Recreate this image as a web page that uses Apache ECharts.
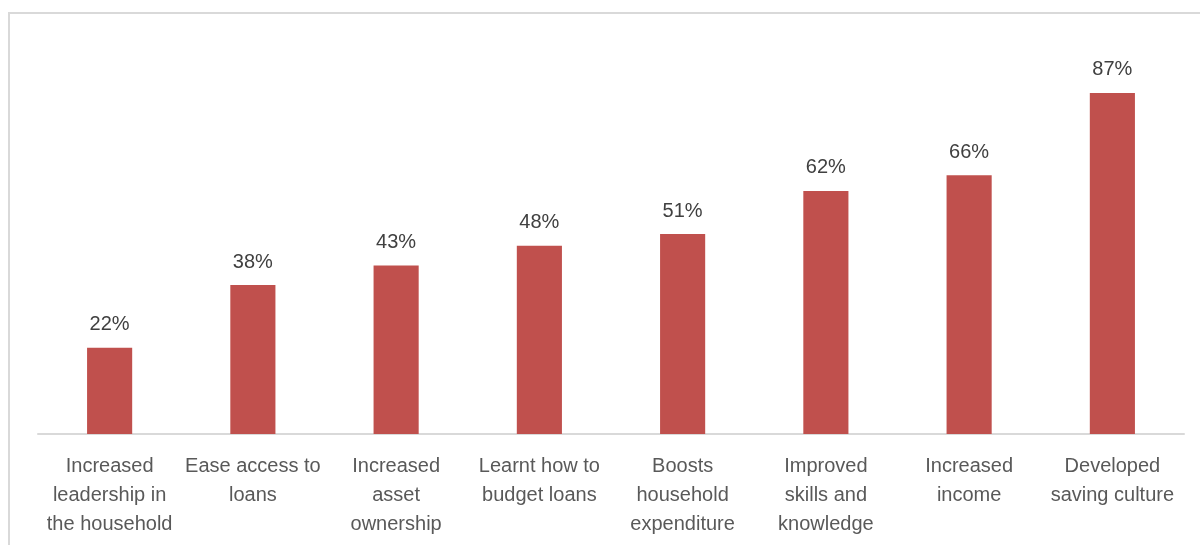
<!DOCTYPE html>
<html>
<head>
<meta charset="utf-8">
<script src="https://cdn.jsdelivr.net/npm/echarts@6/dist/echarts.min.js"></script>
<style>
  html, body { margin: 0; padding: 0; background: #fff; }
  #chart { width: 1200px; height: 545px; }
</style>
</head>
<body>
<div id="chart"></div>
<script>
// Reported benefits of group membership (% of respondents)
const categories = [
  'Increased\nleadership in\nthe household',
  'Ease access to\nloans',
  'Increased\nasset\nownership',
  'Learnt how to\nbudget loans',
  'Boosts\nhousehold\nexpenditure',
  'Improved\nskills and\nknowledge',
  'Increased\nincome',
  'Developed\nsaving culture'
];
const percentages = [22, 38, 43, 48, 51, 62, 66, 87];

const chart = echarts.init(document.getElementById('chart'), null, { renderer: 'canvas' });
const fontFamily = '"Liberation Sans", Arial, sans-serif';

chart.setOption({
  animation: false,
  backgroundColor: '#ffffff',
  graphic: [{
    type: 'rect',
    silent: true,
    shape: { x: 9, y: 13, width: 1220, height: 600 },
    style: { fill: 'none', stroke: '#d9d9d9', lineWidth: 2 }
  }],
  grid: { left: 38, right: 16, top: 42, bottom: 111, containLabel: false },
  xAxis: {
    type: 'category',
    data: categories,
    axisLine: { show: true, lineStyle: { color: '#d9d9d9', width: 2 } },
    axisTick: { show: false },
    axisLabel: {
      interval: 0,
      margin: 18,
      color: '#595959',
      fontFamily: fontFamily,
      fontSize: 20,
      lineHeight: 29
    }
  },
  yAxis: {
    type: 'value',
    min: 0,
    max: 100,
    show: false,
    splitLine: { show: false }
  },
  series: [{
    type: 'bar',
    data: percentages,
    barWidth: '31.5%',
    itemStyle: { color: '#c0504d' },
    label: {
      show: true,
      position: 'top',
      distance: 13,
      formatter: p => p.value + '%',
      color: '#404040',
      fontFamily: fontFamily,
      fontSize: 20
    }
  }]
});
</script>
</body>
</html>
